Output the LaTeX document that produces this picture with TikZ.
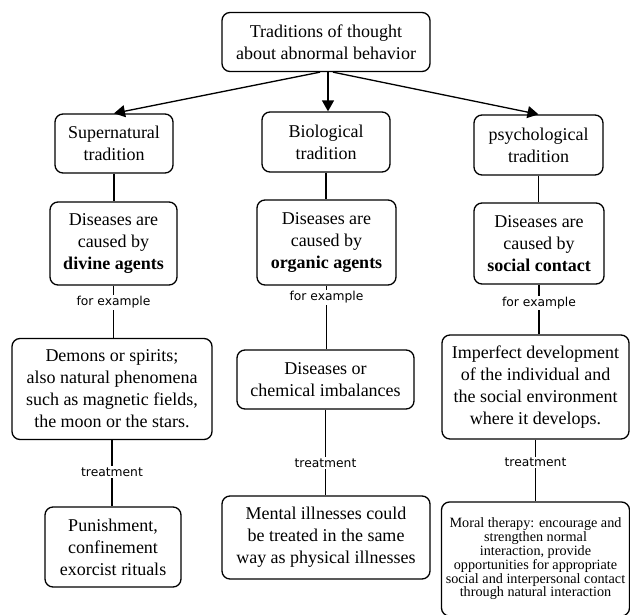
\documentclass[tikz,border=0pt]{standalone}
\usepackage{fontspec}
\setmainfont{Liberation Serif}
\setsansfont{DejaVu Sans}
\usetikzlibrary{positioning,arrows.meta}

\begin{document}
\begin{tikzpicture}[x=1pt, y=-1pt, >={Triangle[length=11pt,width=12pt]}, line width=1.3pt,
	box/.style={draw, rounded corners=8pt, align=center, inner sep=2pt, font=\fontsize{18}{22}\selectfont},
	lbl/.style={fill=white, inner sep=1.5pt, font=\sffamily\fontsize{12.3}{14}\selectfont}]
		\useasboundingbox (0,0) rectangle (630,614);

		\node[box, minimum width=208pt, minimum height=59pt] (top) at (326,42) {Traditions of thought\\about abnormal behavior};

		\node[box, minimum width=118pt, minimum height=59pt] (sup) at (114,143.5) {Supernatural\\tradition};
		\node[box, minimum width=128pt, minimum height=60pt] (bio) at (326,142) {Biological\\tradition};
		\node[box, minimum width=129pt, minimum height=60pt] (psy) at (538.5,145) {psychological\\tradition};

		\node[box, minimum width=127pt, minimum height=83pt] (div) at (113.5,243.5) {Diseases are\\caused by\\\textbf{divine agents}};
		\node[box, minimum width=139pt, minimum height=85pt] (org) at (326.5,242.5) {Diseases are\\caused by\\\textbf{organic agents}};
		\node[box, minimum width=130pt, minimum height=81pt] (soc) at (539,243.5) {Diseases are\\caused by\\\textbf{social contact}};

		\node[box, minimum width=200pt, minimum height=101pt] (dem) at (112,389) {Demons or spirits;\\also natural phenomena\\such as magnetic fields,\\the moon or the stars.};
		\node[box, minimum width=177pt, minimum height=59pt] (che) at (325.5,379.5) {Diseases or\\chemical imbalances};
		\node[box, minimum width=187pt, minimum height=104pt] (imp) at (535.5,387) {Imperfect development\\of the individual and\\the social environment\\where it develops.};

		\node[box, minimum width=136pt, minimum height=80pt] (pun) at (113,547) {Punishment,\\confinement\\exorcist rituals};
		\node[box, minimum width=208pt, minimum height=83pt] (men) at (326,537.5) {Mental illnesses could\\be treated in the same\\way as physical illnesses};
		\node[box, minimum width=188pt, minimum height=114pt, font=\fontsize{14.2}{13.8}\selectfont] (mor) at (535.5,559) {Moral therapy: encourage and\\strengthen normal\\interaction, provide\\opportunities for appropriate\\social and interpersonal contact\\through natural interaction};

		\draw[->] ([xshift=-6pt]top.south) -- (sup.north);
		\draw[->] ([xshift=2pt]top.south) -- ([xshift=2pt]bio.north);
		\draw[->] ([xshift=7pt]top.south) -- (psy.north);

		\draw (sup.south) -- (sup.south |- div.north);
		\draw (bio.south) -- (bio.south |- org.north);
		\draw (psy.south) -- (psy.south |- soc.north);

		\draw (div.south) -- node[lbl, pos=0.32] {for example} (div.south |- dem.north);
		\draw (org.south) -- node[lbl, pos=0.18] {for example} (org.south |- che.north);
		\draw (soc.south) -- node[lbl, pos=0.37] {for example} (soc.south |- imp.north);

		\draw (dem.south) -- node[lbl, pos=0.48] {treatment} (dem.south |- pun.north);
		\draw (che.south) -- node[lbl, pos=0.62] {treatment} (che.south |- men.north);
		\draw (imp.south) -- node[lbl, pos=0.37] {treatment} (imp.south |- mor.north);
	\end{tikzpicture}
\end{document}
